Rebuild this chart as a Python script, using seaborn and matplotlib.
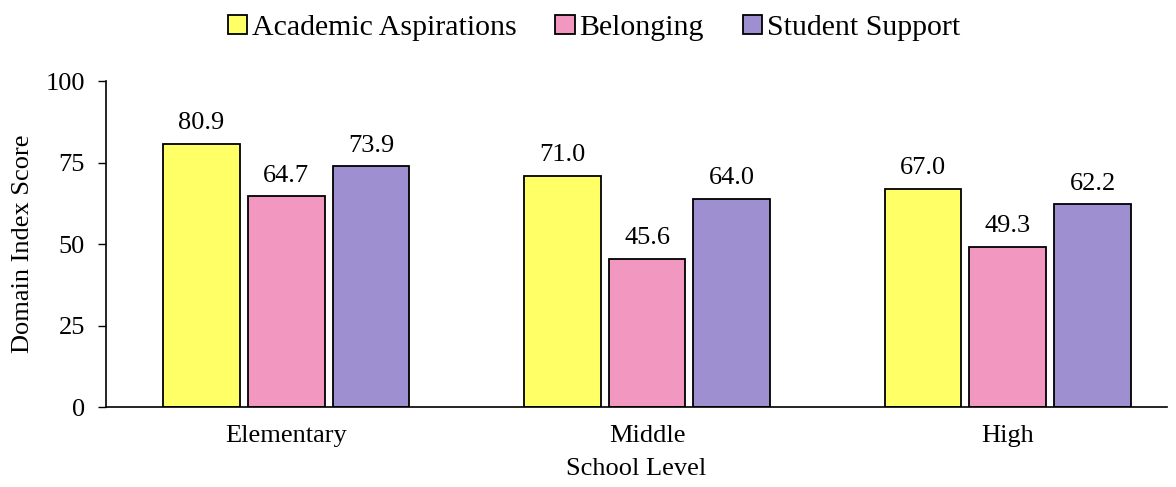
import matplotlib
matplotlib.use("Agg")
import matplotlib.pyplot as plt
import seaborn as sns
import pandas as pd

# chart data
levels = ["Elementary", "Middle", "High"]
domains = ["Academic Aspirations", "Belonging", "Student Support"]
academic = [80.9, 71.0, 67.0]
belonging = [64.7, 45.6, 49.3]
support = [73.9, 64.0, 62.2]
colors = ["#FFFF66", "#F197C0", "#9D8FD0"]
y_ticks = [0, 25, 50, 75, 100]

df = pd.DataFrame({
    "School Level": levels * 3,
    "Domain": [d for d in domains for _ in levels],
    "Score": academic + belonging + support,
})

sns.set_style("white")
plt.rcParams["font.family"] = ["Liberation Serif", "DejaVu Serif"]
plt.rcParams.update({"text.color": "black", "axes.labelcolor": "black",
                     "xtick.color": "black", "ytick.color": "black"})

fig = plt.figure(figsize=(11.76, 4.87), dpi=100)
ax = fig.add_axes([0.090, 0.164, 0.902, 0.669])

sns.barplot(data=df, x="School Level", y="Score", hue="Domain",
            hue_order=domains, order=levels, palette=colors,
            width=0.705, gap=0.094, edgecolor="black", linewidth=1.3,
            saturation=1, ax=ax)

for cont in ax.containers:
    ax.bar_label(cont, fmt="%.1f", padding=7, fontsize=19, color="black")

ax.set_ylim(0, 100)
ax.set_yticks(y_ticks)
ax.set_xlim(-0.5, 2.44)
ax.tick_params(axis="y", labelsize=19, direction="out", length=6, width=1,
               left=True, pad=9, colors="black")
ax.tick_params(axis="x", labelsize=19, length=0, pad=13, colors="black")
ax.set_ylabel("Domain Index Score", fontsize=19, labelpad=8, color="black")
ax.set_xlabel("School Level", fontsize=19, labelpad=8, color="black")
for side in ["top", "right"]:
    ax.spines[side].set_visible(False)
for side in ["left", "bottom"]:
    ax.spines[side].set_color("black")
    ax.spines[side].set_linewidth(1.2)

handles, labels = ax.get_legend_handles_labels()
ax.get_legend().remove()
fig.legend(handles, labels, loc="center", bbox_to_anchor=(0.505, 0.943),
           ncol=3, frameon=False, fontsize=21.5, handlelength=0.65,
           handleheight=0.65, handletextpad=0.15, columnspacing=1.3,
           labelcolor="black")

plt.savefig("out.png", dpi=100)
